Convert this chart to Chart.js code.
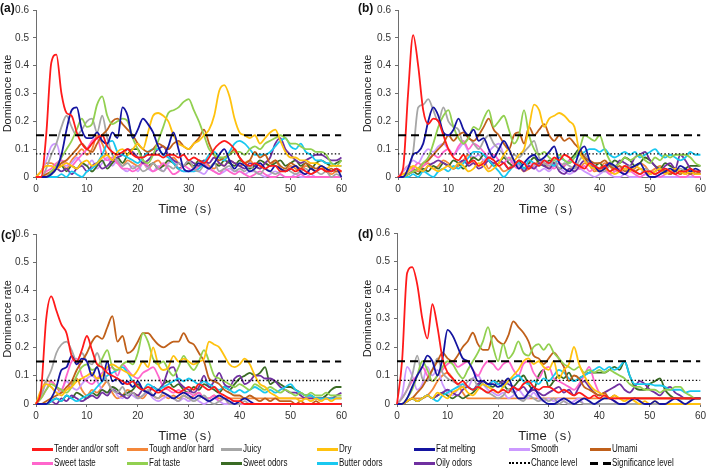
<!DOCTYPE html>
<html><head><meta charset="utf-8">
<script src="https://cdn.jsdelivr.net/npm/chart.js@4.4.1/dist/chart.umd.min.js"></script>
<style>
html,body{margin:0;padding:0;background:#fff;width:709px;height:470px;overflow:hidden;position:relative;}
canvas{position:absolute;}
.plab{position:absolute;font:bold 12px "Liberation Sans",Arial,sans-serif;color:#111;}
.leg{position:absolute;font:10px "Liberation Sans",Arial,sans-serif;color:#111;white-space:nowrap;line-height:12px;transform:scaleX(0.8);transform-origin:0 50%;}
.sw{position:absolute;}
</style></head><body>
<canvas id="ca"></canvas><canvas id="cb"></canvas><canvas id="cc"></canvas><canvas id="cd"></canvas>
<div id="legend"></div>
<script>
// ---- categories / ticks ----
const time = [0,1,2,3,4,5,6,7,8,9,10,11,12,13,14,15,16,17,18,19,20,21,22,23,24,25,26,27,28,29,30,31,32,33,34,35,36,37,38,39,40,41,42,43,44,45,46,47,48,49,50,51,52,53,54,55,56,57,58,59,60];
const xTicks = [0,10,20,30,40,50,60];
const yTicks = [0,0.1,0.2,0.3,0.4,0.5,0.6];
const seriesNames = ['Tender and/or soft','Tough and/or hard','Juicy','Dry','Fat melting','Smooth','Umami','Sweet taste','Fat taste','Sweet odors','Butter odors','Oily odors'];
const chanceLevel = 0.083;
const significanceLevel = 0.15;

// ---- panel (a) ----
const tenderA = [0,0,.15,.41,.44,.3,.23,.22,.16,.12, .1,.12,.14,.15,.11,.09,.08,.09,.1,.08, .07,.07,.08,.08,.08,.07,.08,.08,.07,.08, .06,.07,.06,.05,.07,.1,.12,.13,.12,.1, .07,.05,.04,.05,.04,.03,.04,.04,.02,.02, .03,.02,.03,.02,.01,.02,.03,.02,.02,.03, .02];
const toughA = [0,.02,.05,.05,.04,.05,.03,.06,.08,.1, .08,.1,.15,.12,.08,.06,.05,.04,.06,.05, .04,.05,.03,.05,.06,.04,.05,.07,.05,.04, .05,.03,.04,.06,.04,.03,.05,.04,.06,.05, .04,.05,.06,.04,.03,.05,.04,.06,.03,.02, .04,.03,.02,.04,.03,.02,.03,.02,.01,.02, .02];
const juicyA = [0,0,.03,.08,.12,.18,.22,.18,.15,.17, .2,.21,.16,.22,.14,.08,.06,.04,.05,.03, .04,.02,.03,.05,.03,.02,.04,.03,.05,.04, .06,.03,.02,.04,.03,.05,.02,.03,.04,.02, .03,.02,.04,.02,.01,.03,.02,.01,.02,.03, .02,.01,.02,.03,.01,.02,.01,.02,0,.01, 0];
const dryA = [0,.02,.04,.04,.03,.04,.05,.04,.03,.05, .06,.04,.05,.07,.08,.06,.09,.1,.08,.1, .12,.1,.16,.22,.23,.22,.2,.15,.12,.11, .1,.12,.13,.15,.17,.22,.31,.33,.29,.21, .16,.15,.14,.15,.12,.14,.16,.17,.13,.09, .07,.07,.06,.06,.05,.05,.04,.03,.04,.04, .04];
const meltA = [0,0,0,.01,.03,.08,.17,.24,.25,.17, .14,.14,.16,.13,.12,.16,.14,.25,.22,.14, .17,.21,.19,.16,.11,.08,.11,.16,.1,.03, .02,.03,.05,.04,.03,.05,.08,.1,.06,.03, .05,.04,.02,.03,.05,.03,.02,.04,.03,.02, .03,.04,.02,.01,.03,.02,.04,.03,.02,.03, 0];
const smoothA = [0,.02,.06,.11,.12,.06,.04,.05,.07,.05, .04,.06,.03,.05,.07,.04,.06,.03,.02,.04, .02,.05,.03,.02,.04,.02,.05,.06,.03,.02, .02,.03,.02,.01,.03,.02,.01,.02,.03,.02, .02,.01,.02,.02,.01,0,.01,.02,.01,0, 0,.01,0,0,.01,0,0,0,0,0, 0];
const umamiA = [0,0,.01,.02,.03,.05,.06,.08,.1,.12, .1,.09,.12,.15,.17,.2,.21,.19,.17,.15, .12,.1,.09,.1,.12,.11,.1,.12,.13,.11, .1,.12,.14,.17,.12,.08,.06,.07,.08,.1, .07,.05,.06,.09,.07,.08,.05,.06,.04,.03, .05,.04,.03,.05,.04,.03,.04,.02,.03,.02, .02];
const sweetA = [0,0,.02,.03,.05,.06,.05,.04,.06,.08, .1,.13,.14,.08,.06,.07,.05,.03,.03,.02, .03,.05,.04,.02,.03,.05,.03,.01,.02,.04, .03,.02,.04,.05,.03,.02,.01,.03,.02,.01, .02,.01,0,.01,.02,.01,0,0,.01,0, 0,0,.01,0,0,0,0,0,0,0, 0];
const fatA = [0,0,0,.02,.04,.07,.1,.13,.17,.21, .18,.19,.26,.29,.22,.19,.2,.21,.2,.14, .1,.06,.05,.08,.13,.18,.23,.24,.25,.27, .28,.24,.2,.15,.1,.08,.07,.07,.08,.09, .09,.08,.1,.11,.1,.12,.13,.14,.15,.14, .12,.12,.11,.1,.1,.09,.09,.08,.05,.04, .06];
const sodorA = [0,0,0,.01,.03,.04,.02,.04,.03,.05, .04,.02,.04,.06,.03,.05,.07,.05,.08,.1, .1,.06,.04,.05,.03,.04,.06,.05,.03,.04, .05,.04,.06,.05,.03,.05,.04,.06,.05,.04, .06,.05,.03,.04,.06,.05,.04,.05,.06,.04, .05,.06,.04,.05,.03,.05,.06,.05,.04,.05, .06];
const butterA = [0,0,0,0,0,.01,0,.02,.01,0, .02,.03,.05,.08,.12,.13,.09,.08,.07,.06, .05,.07,.09,.1,.1,.08,.07,.05,.03,.02, .02,.02,.03,.05,.08,.09,.07,.06,.09,.12, .13,.12,.1,.08,.08,.08,.09,.11,.13,.14, .11,.1,.12,.09,.08,.06,.06,.05,.05,.04, .04];
const oilyA = [0,0,0,.02,.03,.02,.03,.01,.03,.04, .02,.04,.05,.03,.04,.06,.07,.08,.1,.09, .07,.05,.06,.08,.1,.11,.08,.06,.05,.04, .06,.05,.04,.06,.05,.07,.05,.04,.06,.05, .04,.03,.05,.04,.03,.05,.07,.12,.14,.1, .08,.06,.05,.06,.07,.08,.08,.07,.06,.06, .07];

// ---- panel (b) ----
const tenderB = [0,.03,.3,.51,.4,.24,.19,.21,.2,.15, .1,.07,.06,.08,.05,.06,.04,.05,.07,.06, .04,.05,.03,.04,.06,.05,.03,.05,.04,.06, .05,.07,.06,.08,.07,.05,.04,.03,.05,.04, .03,.04,.02,.03,.02,.04,.03,.02,.01,.02, .02,.01,.02,.03,.02,.01,.02,.02,.03,.02, .02];
const toughB = [0,.02,.04,.03,.02,.04,.05,.03,.04,.06, .05,.03,.04,.06,.08,.05,.04,.06,.03,.05, .04,.02,.03,.05,.04,.02,.03,.04,.06,.05, .03,.04,.05,.03,.02,.04,.03,.05,.04,.02, .03,.05,.04,.02,.03,.04,.02,.03,.05,.04, .02,.03,.04,.02,.01,.03,.02,.01,.02,.01, .01];
const juicyB = [0,0,.03,.09,.25,.26,.28,.24,.2,.25, .2,.18,.17,.12,.14,.12,.1,.13,.15,.12, .1,.08,.06,.08,.07,.09,.11,.13,.07,.05, .04,.06,.03,.05,.04,.03,.06,.08,.05,.04, .03,.02,.04,.03,.02,.03,.04,.02,.01,.03, .02,.01,.02,.03,.01,.02,.03,.02,.01,.02, .02];
const dryB = [0,.01,.02,.04,.03,.02,.04,.03,.02,.03, .04,.03,.05,.04,.02,.03,.05,.04,.02,.03, .05,.08,.1,.06,.08,.1,.18,.26,.24,.18, .21,.22,.23,.22,.2,.18,.09,.06,.04,.03, .02,.03,.02,.01,.02,.03,.02,.04,.03,.02, .01,.02,.03,.01,.02,.03,.02,.01,.02,.01, .01];
const meltB = [0,0,.03,.08,.09,.12,.2,.25,.22,.16, .15,.17,.21,.17,.15,.17,.13,.14,.1,.07, .1,.13,.1,.06,.03,.05,.07,.08,.06,.07, .09,.11,.05,.03,.02,.04,.09,.11,.06,.04, .02,.03,.05,.04,.02,.01,.03,.04,.05,.02, 0,0,.01,.02,.03,.02,.04,.03,.02,.03, .02];
const smoothB = [0,.02,.04,.06,.05,.08,.1,.09,.11,.12, .1,.08,.1,.12,.09,.07,.08,.06,.09,.11, .12,.08,.05,.06,.04,.03,.05,.04,.02,.03, .02,.04,.03,.02,.01,.02,.03,.02,.01,0, .01,.02,.01,0,0,.01,0,0,0,.01, 0,0,0,0,0,0,0,0,0,0, 0];
const umamiB = [0,0,.01,.02,.03,.05,.06,.08,.1,.12, .15,.13,.15,.16,.14,.13,.15,.18,.21,.17, .15,.12,.1,.15,.16,.12,.18,.15,.17,.19, .15,.13,.15,.13,.14,.12,.1,.07,.06,.05, .05,.06,.04,.03,.04,.02,.03,.02,.03,.02, .01,.02,.03,.02,.01,.02,.01,.02,.01,.02, .01];
const sweetB = [0,0,.01,.03,.05,.04,.06,.08,.07,.09, .1,.08,.11,.13,.1,.12,.11,.09,.07,.08, .06,.05,.07,.04,.03,.05,.04,.03,.05,.06, .04,.03,.05,.04,.06,.05,.03,.04,.02,.03, .02,.03,.01,.02,.03,.01,.02,.01,0,.01, .02,.01,0,.01,.02,.01,0,0,.01,0, 0];
const fatB = [0,0,.01,.02,.03,.05,.07,.12,.18,.22, .24,.18,.14,.12,.14,.18,.17,.21,.24,.18, .2,.22,.17,.12,.15,.24,.15,.1,.08,.09, .07,.06,.08,.06,.05,.07,.1,.15,.14,.13, .15,.1,.06,.04,.05,.07,.06,.07,.08,.06, .05,.07,.06,.08,.07,.08,.08,.08,.07,.05, .04];
const sodorB = [0,0,.01,.02,.01,.03,.02,.04,.03,.05, .04,.06,.05,.03,.05,.07,.06,.08,.06,.04, .05,.07,.05,.04,.06,.03,.05,.07,.05,.04, .06,.05,.03,.04,.06,.08,.1,.07,.05,.04, .05,.03,.04,.06,.05,.07,.06,.04,.05,.07, .06,.04,.03,.05,.04,.03,.02,.03,.04,.04, .04];
const butterB = [0,0,0,.01,0,.02,.01,0,.02,.03, .02,.04,.03,.05,.07,.09,.09,.08,.06,.04, .02,0,.02,.04,.05,.03,.06,.05,.04,.06, .05,.04,.07,.06,.05,.07,.08,.09,.1,.1, .09,.1,.08,.07,.08,.09,.08,.09,.07,.08, .09,.1,.08,.07,.08,.07,.06,.07,.09,.08, .08];
const oilyB = [0,0,.01,.02,.03,.02,.04,.05,.06,.05, .04,.03,.05,.06,.04,.05,.03,.04,.06,.05, .06,.05,.03,.04,.05,.02,.04,.03,.05,.04, .03,.05,.02,.01,.03,.02,.04,.06,.05,.03, .02,.04,.05,.03,.06,.05,.04,.07,.08,.09, .06,.04,.02,.04,.05,.03,.08,.06,.03,.01, .02];

// ---- panel (c) ----
const tenderC = [0,.05,.3,.38,.33,.28,.25,.17,.15,.19, .24,.19,.14,.13,.11,.1,.09,.08,.07,.08, .06,.05,.06,.05,.04,.05,.06,.05,.04,.05, .06,.05,.07,.06,.05,.06,.04,.03,.02,.01, .01,0,0,0,0,0,0,0,0,0, 0,0,0,0,0,0,0,0,0,0, 0];
const toughC = [0,.04,.08,.08,.06,.04,.05,.07,.09,.05, .03,.05,.04,.06,.08,.04,.02,.03,.05,.04, .03,.02,.04,.03,.02,.03,.02,.03,.02,.03, .02,.03,.04,.02,.02,.03,.02,.02,.02,.02, .02,.02,.02,.02,.02,.02,.02,.02,.02,.02, .02,.02,.02,.02,.02,.02,.02,.02,.02,.02, .02];
const juicyC = [0,.03,.08,.12,.18,.21,.22,.19,.15,.18, .15,.14,.18,.13,.08,.05,.04,.06,.03,.04, .02,.03,.05,.03,.02,.04,.03,.02,.01,.03, .02,.01,.02,.03,.01,0,.01,.02,0,0, 0,.01,0,0,0,0,0,0,0,0, 0,0,0,0,0,0,0,0,0,0, 0];
const dryC = [0,.05,.07,.06,.04,.03,.05,.06,.08,.09, .1,.11,.09,.1,.13,.14,.13,.12,.11,.1, .12,.15,.13,.2,.14,.12,.13,.17,.15,.16, .15,.14,.15,.16,.22,.21,.2,.17,.14,.13, .14,.16,.14,.1,.07,.06,.04,.03,.02,.02, .02,.02,.01,.02,.01,.02,.01,.02,.01,.02, .02];
const meltC = [0,0,0,.02,.06,.12,.13,.17,.14,.16, .15,.1,.13,.08,.15,.08,.09,.07,.08,.06, .08,.05,.04,.03,.05,.04,.03,.02,.03,.04, .03,.02,.03,.02,.01,.02,.03,.02,.01,0, .01,.02,.01,0,0,0,0,0,0,0, 0,0,0,0,0,0,0,0,0,0, 0];
const smoothC = [0,.03,.07,.06,.04,.05,.08,.06,.05,.07, .09,.1,.08,.05,.04,.06,.03,.02,.04,.03, .02,.03,.04,.02,.01,.02,.03,.02,.01,.02, .01,.02,.01,0,.01,.02,.01,0,0,.01, 0,0,0,0,0,0,0,0,0,0, 0,0,0,0,0,0,0,0,0,0, 0];
const umamiC = [0,0,.01,.02,.03,.04,.06,.08,.12,.15, .18,.22,.24,.23,.27,.31,.22,.24,.18,.19, .22,.25,.25,.23,.21,.2,.21,.22,.22,.25, .22,.21,.18,.15,.09,.08,.07,.05,.04,.03, .03,.02,.03,.02,.01,.02,.01,.02,.01,.01, .01,0,.01,0,0,.01,0,0,0,0, 0];
const sweetC = [0,.02,.05,.08,.06,.05,.1,.15,.16,.1, .08,.07,.09,.11,.12,.13,.1,.14,.12,.1, .09,.11,.12,.13,.1,.06,.05,.04,.05,.04, .04,.03,.04,.02,.02,.03,.01,.02,0,0, 0,0,0,0,0,0,0,0,0,0, 0,0,0,0,0,0,0,0,0,0, 0];
const fatC = [0,.02,.05,.07,.06,.05,.04,.06,.1,.13, .14,.12,.13,.16,.19,.13,.12,.14,.15,.14, .18,.25,.22,.16,.14,.15,.12,.1,.13,.17, .14,.12,.15,.19,.15,.1,.09,.08,.07,.06, .07,.06,.05,.07,.06,.05,.06,.05,.04,.05, .04,.03,.04,.03,.04,.03,.03,.04,.03,.03, .03];
const sodorC = [0,0,0,.01,.02,.01,.03,.02,.04,.03, .02,.04,.03,.05,.04,.06,.05,.03,.04,.05, .07,.05,.04,.06,.05,.07,.08,.06,.07,.05, .04,.06,.05,.07,.06,.05,.04,.06,.05,.07, .09,.1,.11,.1,.11,.13,.07,.08,.07,.06, .06,.05,.04,.03,.03,.02,.02,.03,.05,.06, .06];
const butterC = [0,0,0,.01,.02,.01,.03,.02,.01,.02, .03,.04,.06,.08,.1,.11,.12,.13,.11,.08, .06,.05,.07,.06,.05,.06,.07,.08,.09,.08, .09,.08,.07,.08,.07,.06,.05,.06,.05,.04, .05,.04,.05,.06,.05,.04,.05,.04,.05,.06, .07,.05,.04,.03,.03,.02,.02,.02,.02,.02, .02];
const oilyC = [0,0,0,.01,0,.02,.01,.03,.02,.01, .02,.03,.02,.04,.03,.05,.04,.03,.02,.04, .03,.05,.04,.06,.05,.07,.12,.13,.08,.06, .05,.04,.06,.1,.06,.08,.11,.07,.06,.09, .1,.07,.08,.1,.1,.09,.09,.08,.06,.05, .04,.04,.03,.02,.02,.02,.02,.02,.02,.03, .04];

// ---- panel (d) ----
const tenderD = [0,.15,.46,.48,.42,.3,.23,.35,.27,.16, .11,.09,.07,.08,.06,.05,.06,.05,.04,.05, .04,.05,.04,.06,.05,.07,.08,.06,.05,.06, .06,.05,.04,.05,.04,.03,.04,.03,.02,.03, .02,.03,.02,.02,.02,.02,.02,.02,.02,.02, .02,.02,.02,.02,.02,.02,.02,.02,.02,.02, .02];
const toughD = [0,0,.01,.02,.02,.02,.03,.05,.08,.1, .11,.09,.07,.04,.02,.02,.02,.02,.02,.02, .02,.02,.02,.02,.02,.02,.02,.02,.02,.02, .02,.02,.02,.02,.02,.02,.02,.02,.02,.02, .02,.02,.02,.02,.02,.02,.02,.02,.02,.02, .02,.02,.02,.02,.02,.02,.02,.02,.02,.02, .02];
const juicyD = [0,.02,.05,.1,.17,.09,.08,.12,.16,.11, .09,.08,.07,.06,.08,.09,.06,.05,.04,.03, .02,.03,.05,.04,.02,.01,.03,.02,.01,.02, .01,.02,0,.01,0,0,.01,0,0,0, 0,0,0,0,0,0,0,0,0,0, 0,0,0,0,0,0,0,0,0,0, 0];
const dryD = [0,0,.01,.02,.01,.02,.03,.02,.04,.03, .02,.04,.05,.06,.04,.03,.05,.07,.06,.05, .04,.06,.08,.1,.12,.15,.16,.14,.15,.13, .12,.15,.09,.12,.14,.2,.14,.1,.07,.05, .04,.03,.02,.03,.02,.01,.02,.01,0,.01, 0,.01,0,0,0,0,0,0,0,0, 0];
const meltD = [0,0,.02,.06,.1,.13,.17,.15,.1,.16, .26,.24,.2,.16,.15,.12,.08,.08,.07,.07, .06,.07,.09,.05,.02,.02,.04,.06,.03,.01, 0,0,.01,.02,.01,0,.01,.02,.01,0, .01,.02,.02,.01,0,0,.01,.02,.01,0, 0,.01,0,0,.01,.02,.01,0,.01,.02, .02];
const smoothD = [0,.03,.13,.1,.05,.07,.13,.1,.12,.07, .04,.03,.05,.07,.06,.09,.1,.07,.05,.04, .03,.04,.02,.03,.05,.03,.02,.04,.02,.01, .02,.01,.02,.01,0,.01,.02,0,0,0, 0,0,0,0,0,0,0,0,0,0, 0,0,0,0,0,0,0,0,0,0, 0];
const umamiD = [0,0,.01,.02,.04,.06,.09,.12,.15,.18, .16,.15,.17,.2,.22,.25,.21,.19,.19,.24, .22,.21,.24,.29,.27,.25,.22,.17,.16,.14, .16,.18,.16,.13,.08,.1,.09,.06,.05,.04, .03,.04,.02,.03,.02,.02,.02,.02,.02,.02, .02,.02,.02,.02,.02,.02,.02,.02,.02,.02, .02];
const sweetD = [0,.02,.05,.08,.1,.13,.1,.08,.1,.12, .14,.15,.13,.14,.15,.12,.1,.13,.15,.14, .12,.14,.15,.12,.1,.14,.15,.11,.09,.12, .13,.09,.08,.07,.06,.05,.07,.1,.13,.08, .04,.03,.02,.01,0,0,0,0,0,0, 0,0,0,0,0,0,0,0,0,0, 0];
const fatD = [0,0,.02,.05,.1,.15,.12,.08,.1,.13, .15,.14,.11,.09,.12,.15,.18,.22,.27,.2, .15,.21,.16,.18,.22,.18,.17,.2,.21,.19, .21,.18,.16,.14,.13,.12,.13,.11,.12,.11, .12,.11,.12,.11,.1,.09,.07,.06,.06,.05, .05,.05,.04,.05,.05,.06,.06,.04,.03,.02, .02];
const sodorD = [0,0,.01,.02,.01,.02,.03,.02,.03,.04, .03,.02,.03,.02,.03,.04,.06,.08,.07,.06, .08,.07,.05,.06,.08,.1,.07,.05,.1,.12, .06,.08,.1,.09,.11,.08,.09,.1,.11,.11, .11,.11,.12,.13,.12,.15,.1,.06,.05,.05, .07,.08,.09,.05,.03,.02,.02,.02,.02,.02, .02];
const butterD = [0,0,.01,.02,.01,.02,.03,.02,.01,.03, .04,.05,.06,.07,.06,.05,.06,.07,.06,.08, .07,.06,.08,.09,.1,.08,.07,.08,.07,.09, .08,.1,.12,.11,.09,.08,.09,.1,.11,.12, .13,.12,.13,.12,.13,.15,.1,.07,.07,.07, .07,.065,.065,.06,.05,.05,.05,.04,.045,.045, .045];
const oilyD = [0,0,.01,.02,.01,.02,.03,.02,.03,.04, .05,.04,.03,.05,.06,.05,.07,.08,.07,.08, .07,.08,.07,.06,.05,.06,.04,.05,.04,.03, .04,.05,.06,.04,.05,.03,.06,.08,.06,.04, .03,.04,.05,.06,.07,.05,.04,.06,.08,.07, .05,.04,.03,.05,.06,.04,.03,.02,.02,.02, .02];

// ---- styles ----
const seriesColors = ['#FF1A1A','#F4873A','#A6A6A6','#FFC20E','#1414A0','#CC99FF','#C0601A','#FF66CC','#92D050','#3A6B24','#19C8F0','#7030A0'];
// drawing order (first = on top)
const drawOrder = [0,4,3,8,6,2,10,11,7,9,5,1];

const panelData = {
  a: [tenderA,toughA,juicyA,dryA,meltA,smoothA,umamiA,sweetA,fatA,sodorA,butterA,oilyA],
  b: [tenderB,toughB,juicyB,dryB,meltB,smoothB,umamiB,sweetB,fatB,sodorB,butterB,oilyB],
  c: [tenderC,toughC,juicyC,dryC,meltC,smoothC,umamiC,sweetC,fatC,sodorC,butterC,oilyC],
  d: [tenderD,toughD,juicyD,dryD,meltD,smoothD,umamiD,sweetD,fatD,sodorD,butterD,oilyD]
};

const panels = [
  {key:'a', id:'ca', left:0,   top:0,   w:350, h:222, yW:36, padTop:5,  padRight:7, titlePad:1, lx:0,   ly:1},
  {key:'b', id:'cb', left:358, top:0,   w:351, h:222, yW:40, padTop:5,  padRight:6, titlePad:3, lx:358, ly:1},
  {key:'c', id:'cc', left:0,   top:222, w:350, h:227, yW:36, padTop:12, padRight:7, titlePad:1, lx:1,   ly:228},
  {key:'d', id:'cd', left:358, top:222, w:351, h:227, yW:39, padTop:11, padRight:6, titlePad:3, lx:358, ly:227}
];

const axisColor = '#6e6e6e';
const tickFont = {family:'"Liberation Sans",Arial,sans-serif', size:10};

panels.forEach(p => {
  const cv = document.getElementById(p.id);
  cv.width = p.w; cv.height = p.h;
  cv.style.left = p.left + 'px'; cv.style.top = p.top + 'px';
  cv.style.width = p.w + 'px'; cv.style.height = p.h + 'px';

  const lab = document.createElement('div');
  lab.className = 'plab';
  lab.textContent = '(' + p.key + ')';
  lab.style.left = p.lx + 'px'; lab.style.top = p.ly + 'px';
  document.body.appendChild(lab);

  const series = panelData[p.key];
  const datasets = [
    {label:'Significance level', data:[{x:0,y:significanceLevel},{x:60,y:significanceLevel}], borderColor:'#000', borderWidth:2, borderDash:[8,5], tension:0},
    {label:'Chance level', data:[{x:0,y:chanceLevel},{x:60,y:chanceLevel}], borderColor:'#000', borderWidth:1.4, borderDash:[1.4,2.2], tension:0}
  ];
  drawOrder.forEach(si => {
    datasets.push({
      label: seriesNames[si],
      data: series[si].map((v,i) => ({x:time[i], y:v})),
      borderColor: seriesColors[si],
      borderWidth: 1.8,
      cubicInterpolationMode: 'monotone',
      clip: 3
    });
  });

  new Chart(cv, {
    type:'line',
    data:{datasets},
    options:{
      responsive:false, animation:false, devicePixelRatio:1,
      elements:{point:{radius:0}, line:{fill:false}},
      plugins:{legend:{display:false}, tooltip:{enabled:false}},
      layout:{padding:{top:p.padTop, right:p.padRight, left:0, bottom:0}},
      scales:{
        x:{type:'linear', min:0, max:60,
           afterBuildTicks(s){ s.ticks = xTicks.map(v=>({value:v})); },
           afterFit(s){ s.height = 45; },
           grid:{display:true, drawOnChartArea:false, drawTicks:true, tickLength:3, color:axisColor},
           border:{display:true, color:axisColor, width:1},
           ticks:{font:tickFont, color:'#333', padding:3, maxRotation:0},
           title:{display:true, text:'Time（s）', color:'#222', font:{family:'"Liberation Sans",Arial,sans-serif', size:13}, padding:{top:4,bottom:5}}
        },
        y:{min:0, max:0.6,
           afterBuildTicks(s){ s.ticks = yTicks.map(v=>({value:v})); },
           afterFit(s){ s.width = p.yW; },
           grid:{display:true, drawOnChartArea:false, drawTicks:true, tickLength:3, color:axisColor},
           border:{display:true, color:axisColor, width:1},
           ticks:{font:tickFont, color:'#333', padding:4, callback:v => v===0 ? '0' : v.toFixed(1)},
           title:{display:true, text:'Dominance rate', color:'#222', font:{family:'"Liberation Sans",Arial,sans-serif', size:11}, padding:{top:p.titlePad,bottom:0}}
        }
      }
    }
  });
});

// ---- legend (HTML) ----
const legendItems = seriesNames.map((n,i)=>({name:n, color:seriesColors[i], kind:'solid'}));
legendItems.push({name:'Chance level', color:'#000', kind:'dotted'});
legendItems.push({name:'Significance level', color:'#000', kind:'dashed'});
const legX = [32,127,221,317,414,509,590];
const legY = [449,463];
const legend = document.getElementById('legend');
legendItems.forEach((it, k) => {
  const row = Math.floor(k/7), col = k%7;
  const x = legX[col], y = legY[row];
  const sw = document.createElement('div');
  sw.className = 'sw';
  sw.style.left = x + 'px'; sw.style.width = '21px';
  if (it.kind === 'solid') {
    sw.style.top = (y-1) + 'px'; sw.style.height = '3px'; sw.style.background = it.color;
  } else if (it.kind === 'dotted') {
    sw.style.top = (y-1) + 'px'; sw.style.height = '0px'; sw.style.borderTop = '2px dotted #000';
  } else {
    sw.style.top = (y-1) + 'px'; sw.style.height = '3px';
    sw.style.background = 'linear-gradient(to right,#000 0 8px,transparent 8px 13px,#000 13px 21px)';
  }
  legend.appendChild(sw);
  const tx = document.createElement('div');
  tx.className = 'leg';
  tx.textContent = it.name;
  tx.style.left = (x+22) + 'px'; tx.style.top = (y-6) + 'px';
  legend.appendChild(tx);
});
</script>
</body></html>
